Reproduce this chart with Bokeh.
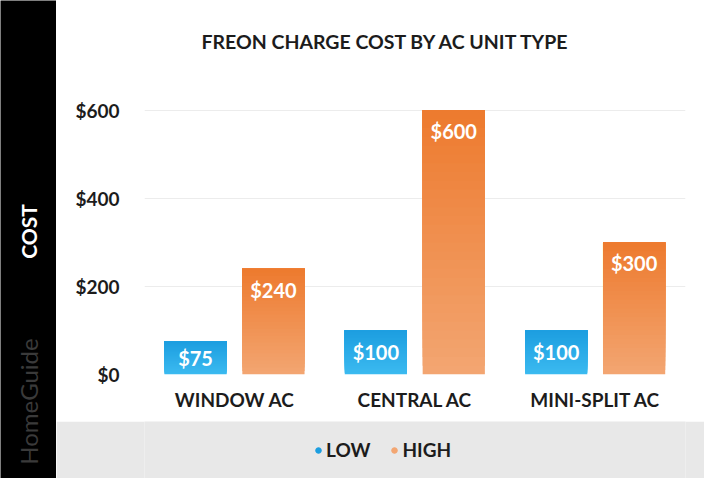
import numpy as np
from bokeh.plotting import figure
from bokeh.models import (Range1d, FactorRange, ColumnDataSource, Legend, LegendItem,
                          FixedTicker, Title)
from bokeh.layouts import row, column
from bokeh.transform import dodge
from bokeh.core.properties import value
from bokeh.embed import file_html
from bokeh.resources import INLINE

# ---- data ----
categories = ["WINDOW AC", "CENTRAL AC", "MINI-SPLIT AC"]
low_costs = [75, 100, 100]
high_costs = [240, 600, 300]
series_names = ["LOW", "HIGH"]
y_ticks = [0, 200, 400, 600]
y_tick_labels = ["$0", "$200", "$400", "$600"]
title_text = "FREON CHARGE COST BY AC UNIT TYPE"
axis_title = "COST"
watermark = "HomeGuide"

FONT = "Lato"
DARK = "#1c1c1c"
BLUE_TOP, BLUE_BOT = (28, 158, 224), (60, 186, 240)
ORANGE_TOP, ORANGE_BOT = (237, 122, 46), (243, 166, 114)
GREY_BAND = "#e8e8e8"


def hexc(c):
    return "#%02x%02x%02x" % tuple(int(round(v)) for v in c)


STRIP_W = 56
MAIN_W = 648
MAIN_H = 421
BAND_H = 57
ML, MR = 88, 19

# ---- main chart ----
p = figure(x_range=FactorRange(factors=categories, range_padding=0),
           y_range=Range1d(0, 720), width=MAIN_W, height=MAIN_H,
           output_backend="svg", toolbar_location=None,
           min_border_left=ML, min_border_right=MR, min_border_top=57,
           min_border_bottom=47)
p.outline_line_color = None
p.background_fill_color = "white"
p.border_fill_color = "white"

p.title = Title(text=title_text, align="left", offset=57,
                text_font=FONT, text_font_size="19.5px", text_font_style="bold",
                text_color=DARK)

N = 30
offsets = [-0.217, 0.215]
bar_w = 0.345
grads = [(BLUE_BOT, BLUE_TOP), (ORANGE_BOT, ORANGE_TOP)]
for si, (vals, off, (cb, ct)) in enumerate(zip([low_costs, high_costs], offsets, grads)):
    cats, bots, tops, cols = [], [], [], []
    for k in range(N):
        f = (k + 0.5) / N
        col = hexc([cb[i] + (ct[i] - cb[i]) * f for i in range(3)])
        for c, v in zip(categories, vals):
            cats.append(c)
            bots.append(v * k / N)
            tops.append(v)
            cols.append(col)
    src = ColumnDataSource(dict(cat=cats, bottom=bots, top=tops, color=cols))
    p.vbar(x=dodge("cat", off, range=p.x_range), bottom="bottom", top="top",
           width=bar_w, fill_color="color", line_color=None, source=src)
    texts = ["$%d" % v for v in vals]
    if si == 0:
        lab = ColumnDataSource(dict(cat=categories, v=[v / 2 for v in vals], t=texts))
        p.text(x=dodge("cat", off, range=p.x_range), y="v", text="t", source=lab,
               text_align="center", text_baseline="middle",
               text_font=value(FONT), text_font_style="bold", text_font_size="20px",
               text_color="white")
    else:
        lab = ColumnDataSource(dict(cat=categories, v=vals, t=texts))
        p.text(x=dodge("cat", off, range=p.x_range), y="v", text="t", source=lab,
               text_align="center", text_baseline="top", y_offset=9,
               text_font=value(FONT), text_font_style="bold", text_font_size="20px",
               text_color="white")

p.xgrid.grid_line_color = None
p.ygrid.ticker = FixedTicker(ticks=y_ticks)
p.ygrid.grid_line_color = "#ececec"
p.ygrid.grid_line_width = 1

p.yaxis.ticker = FixedTicker(ticks=y_ticks)
p.yaxis.major_label_overrides = {t: l for t, l in zip(y_ticks, y_tick_labels)}
for ax in (p.xaxis, p.yaxis):
    ax.axis_line_color = None
    ax.major_tick_line_color = None
    ax.minor_tick_line_color = None
    ax.major_tick_in = 0
    ax.major_tick_out = 0
    ax.major_label_text_font = FONT
    ax.major_label_text_font_style = "bold"
    ax.major_label_text_font_size = "19px"
    ax.major_label_text_color = DARK
p.yaxis.major_label_standoff = 25
p.xaxis.major_label_standoff = 13

# ---- black strip on the left ----
TOTAL_H = MAIN_H + BAND_H
s = figure(width=STRIP_W, height=TOTAL_H, x_range=Range1d(0, STRIP_W),
           y_range=Range1d(0, TOTAL_H),
           output_backend="svg", toolbar_location=None,
           min_border=0, x_axis_location=None, y_axis_location=None)
s.background_fill_color = "black"
s.border_fill_color = "black"
s.outline_line_color = None
s.grid.grid_line_color = None
s.text(x=[28], y=[247], text=[axis_title], angle=np.pi / 2, text_align="center",
       text_baseline="middle", text_font=value(FONT), text_font_style="bold",
       text_font_size="21px", text_color="white")
s.text(x=[28], y=[77], text=[watermark], angle=np.pi / 2, text_align="center",
       text_baseline="middle", text_font=value(FONT), text_font_size="24px",
       text_color="#3a3a3a")

# ---- legend band ----
lg = figure(width=MAIN_W, height=BAND_H, x_range=Range1d(0, 1), y_range=Range1d(0, 1),
            output_backend="svg", toolbar_location=None,
            min_border_left=ML, min_border_right=MR, min_border_top=0, min_border_bottom=0,
            x_axis_location=None, y_axis_location=None)
lg.background_fill_color = GREY_BAND
lg.border_fill_color = GREY_BAND
lg.outline_line_color = None
lg.grid.grid_line_color = None
# legend swatches (kept outside the visible range, only the legend shows them)
r_low = lg.scatter(x=[-5], y=[-5], marker="circle", size=6, color=hexc(BLUE_TOP))
r_high = lg.scatter(x=[-5], y=[-5], marker="circle", size=6, color=hexc(ORANGE_BOT))
legend = Legend(items=[LegendItem(label=series_names[0], renderers=[r_low]),
                       LegendItem(label=series_names[1], renderers=[r_high])],
                location=(167, 17), orientation="horizontal",
                background_fill_alpha=0, border_line_color=None,
                label_text_font=FONT, label_text_font_style="bold",
                label_text_font_size="19px", label_text_color=DARK,
                glyph_width=14, glyph_height=14, label_standoff=1, spacing=17,
                padding=0, margin=0)
lg.add_layout(legend, "center")

layout = row(s, column(p, lg, spacing=0), spacing=0)

open("out.html", "w").write(file_html(layout, INLINE))
